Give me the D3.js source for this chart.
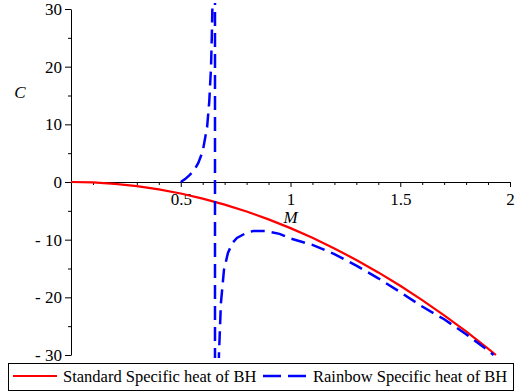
<!DOCTYPE html>
<html><head><meta charset="utf-8">
<script src="https://cdn.jsdelivr.net/npm/d3@7"></script>
<style>
body{margin:0;background:#fff;}
svg{display:block;}
svg text{font-family:"Liberation Serif","Times New Roman",serif !important;}
</style></head>
<body>
<svg id="chart" width="520" height="392"></svg>
<script>
// ---- data ----
const stdMass = [0, 0.1, 0.2, 0.3, 0.4, 0.5, 0.6, 0.7, 0.8, 0.9, 1.0, 1.1, 1.2, 1.3, 1.4, 1.5, 1.6, 1.7, 1.8, 1.9, 1.936];
const stdHeat = [0, -0.08, -0.32, -0.72, -1.28, -2.0, -2.88, -3.92, -5.12, -6.48, -8.0, -9.68, -11.52, -13.52, -15.68, -18.0, -20.48, -23.12, -25.92, -28.88, -30];

const rbMass = [0.5, 0.52, 0.54, 0.56, 0.58, 0.60, 0.62, 0.63, 0.638, 0.642, 0.646, 0.650, 0.656, 0.656, 0.662, 0.668, 0.674, 0.683, 0.697, 0.715, 0.735, 0.756, 0.80, 0.83, 0.89, 0.95, 1.0, 1.1, 1.2, 1.3, 1.4, 1.5, 1.6, 1.7, 1.8, 1.9, 1.925];
const rbHeat = [0, 0.5, 1.2, 2.0, 3.3, 5.3, 9.5, 14, 20, 26, 34, 50, 400, -400, -70, -42, -30, -21, -15.2, -12.3, -10.6, -9.7, -8.8, -8.5, -8.5, -9.0, -9.8, -10.9, -12.5, -14.5, -16.7, -19.1, -21.6, -23.8, -26.4, -29.2, -30];

const xMajor = [0.5, 1, 1.5, 2];
const xMinor = [0.1, 0.2, 0.3, 0.4, 0.6, 0.7, 0.8, 0.9, 1.1, 1.2, 1.3, 1.4, 1.6, 1.7, 1.8, 1.9];
const yMajor = [-30, -20, -10, 0, 10, 20, 30];
const yMinor = [-25, -15, -5, 5, 15, 25];

const seriesNames = ["Standard Specific heat of BH", "Rainbow Specific heat of BH"];
const seriesColors = ["#ff0000", "#0000ff"];
const xLabel = "M", yLabel = "C";

// ---- drawing ----
const svg = d3.select("#chart");
const x = d3.scaleLinear().domain([0, 2]).range([71, 510]);
const y = d3.scaleLinear().domain([-30, 30]).range([355, 9]);

svg.append("defs").append("clipPath").attr("id", "clip")
  .append("rect").attr("x", 71).attr("y", 3).attr("width", 445).attr("height", 355);

const fmt = d => d < 0 ? "- " + Math.abs(d) : String(d);

// x axis
const gx = svg.append("g").attr("transform", `translate(0,${y(0)})`);
gx.call(d3.axisBottom(x).tickValues(xMajor).tickSizeInner(5).tickSizeOuter(0).tickPadding(6).tickFormat(fmt));
gx.append("g").call(d3.axisBottom(x).tickValues(xMinor).tickSizeInner(3).tickSizeOuter(0).tickFormat(""))
  .select(".domain").remove();
gx.select(".domain").attr("d", `M${x(0)},0.5H${x(2)}`);

// y axis
const gy = svg.append("g").attr("transform", `translate(${x(0)},0)`);
gy.call(d3.axisLeft(y).tickValues(yMajor).tickSizeInner(6).tickSizeOuter(0).tickPadding(3).tickFormat(fmt));
gy.append("g").call(d3.axisLeft(y).tickValues(yMinor).tickSizeInner(3).tickSizeOuter(0).tickFormat(""))
  .select(".domain").remove();

[gx, gy].forEach(g => g.attr("font-family", "Liberation Serif").attr("font-size", 17));
svg.selectAll(".tick text").attr("font-size", 17).attr("fill", "#000");
svg.selectAll(".tick line, .domain").attr("stroke", "#000");

// axis labels
svg.append("text").attr("x", x(1)).attr("y", 223).attr("text-anchor", "middle")
  .attr("font-size", 17).attr("font-style", "italic").text(xLabel);
svg.append("text").attr("x", 20).attr("y", 98).attr("text-anchor", "middle")
  .attr("font-size", 17).attr("font-style", "italic").text(yLabel);

// lines
const line = d3.line().x(d => x(d[0])).y(d => y(d[1]));
const plot = svg.append("g").attr("clip-path", "url(#clip)");
plot.append("path").datum(stdMass.map((m, i) => [m, stdHeat[i]]))
  .attr("d", line).attr("fill", "none").attr("stroke", seriesColors[0]).attr("stroke-width", 2.2);
plot.append("path").datum(rbMass.map((m, i) => [m, rbHeat[i]]))
  .attr("d", line).attr("fill", "none").attr("stroke", seriesColors[1]).attr("stroke-width", 2.5)
  .attr("stroke-dasharray", "14,7");

// legend
const lg = svg.append("g");
lg.append("rect").attr("x", 8.5).attr("y", 363.5).attr("width", 505).attr("height", 27)
  .attr("fill", "none").attr("stroke", "#000").attr("stroke-width", 1);
const items = [{x0: 13, tx: 63}, {x0: 263, tx: 313}];
items.forEach((it, i) => {
  lg.append("line").attr("x1", it.x0).attr("x2", it.x0 + 44).attr("y1", 376).attr("y2", 376)
    .attr("stroke", seriesColors[i]).attr("stroke-width", i ? 2.5 : 2.2)
    .attr("stroke-dasharray", i ? "18,7" : null);
  lg.append("text").attr("x", it.tx).attr("y", 382).attr("font-size", 16.5).attr("fill", "#000").text(seriesNames[i]);
});
</script>
</body></html>
